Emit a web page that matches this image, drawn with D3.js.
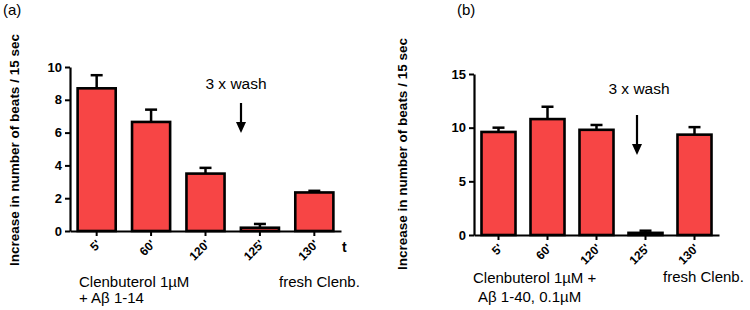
<!DOCTYPE html>
<html>
<head>
<meta charset="utf-8">
<script src="https://cdn.jsdelivr.net/npm/d3@7"></script>
<style>
  body { margin: 0; background: #fff; }
  svg { display: block; font-family: "Liberation Sans", Arial, sans-serif; }
</style>
</head>
<body>
<div id="chart"></div>
<script>
const categories = ["5'", "60'", "120'", "125'", "130'"];

// panel (a): Clenbuterol + Abeta 1-14
const meansA = [8.7, 6.65, 3.5, 0.2, 2.35];
const errTopA = [9.5, 7.4, 3.85, 0.43, 2.45];
const ticksA = [0, 2, 4, 6, 8, 10];

// panel (b): Clenbuterol + Abeta 1-40
const meansB = [9.6, 10.8, 9.8, 0.2, 9.35];
const errTopB = [10.0, 11.95, 10.25, 0.4, 10.05];
const ticksB = [0, 5, 10, 15];

const yLabel = "Increase in number of beats / 15 sec";
const barColor = "#f74545";

const svg = d3.select("#chart")
    .append("svg")
    .attr("width", 750)
    .attr("height", 310);

function drawPanel(opt) {
    const g = svg.append("g");

    const x = d3.scaleBand()
        .domain(categories)
        .range([opt.left, opt.right])
        .paddingInner(opt.padIn)
        .paddingOuter(opt.padOut);

    const y = d3.scaleLinear()
        .domain([0, opt.yMax])
        .range([opt.bottom, opt.top]);

    // bars
    g.selectAll(".bar")
        .data(opt.means)
        .join("rect")
        .attr("class", "bar")
        .attr("x", (d, i) => x(categories[i]))
        .attr("y", d => y(d))
        .attr("width", x.bandwidth())
        .attr("height", d => y(0) - y(d))
        .attr("fill", barColor)
        .attr("stroke", "#000")
        .attr("stroke-width", 2.6);

    // error bars (upper only)
    const cx = i => x(categories[i]) + x.bandwidth() / 2;
    g.selectAll(".errLine")
        .data(opt.errTop)
        .join("line")
        .attr("x1", (d, i) => cx(i))
        .attr("x2", (d, i) => cx(i))
        .attr("y1", (d, i) => y(opt.means[i]))
        .attr("y2", d => y(d))
        .attr("stroke", "#000")
        .attr("stroke-width", 2.5);

    g.selectAll(".errCap")
        .data(opt.errTop)
        .join("line")
        .attr("x1", (d, i) => cx(i) - 6)
        .attr("x2", (d, i) => cx(i) + 6)
        .attr("y1", d => y(d))
        .attr("y2", d => y(d))
        .attr("stroke", "#000")
        .attr("stroke-width", 2.5);

    // y axis
    const yAxis = g.append("g")
        .attr("transform", `translate(${opt.left},0)`)
        .call(d3.axisLeft(y).tickValues(opt.ticks).tickSize(5).tickSizeOuter(0).tickPadding(3));

    // x axis
    const xAxis = g.append("g")
        .attr("transform", `translate(0,${opt.bottom})`)
        .call(d3.axisBottom(x).tickSize(5).tickSizeOuter(0));

    [yAxis, xAxis].forEach(a => {
        a.select(".domain").attr("stroke-width", 2.2);
        a.selectAll(".tick line").attr("stroke-width", 2);
        a.selectAll("text")
            .style("font-family", "Liberation Sans, Arial, sans-serif")
            .style("font-weight", "bold")
            .style("font-size", "13px")
            .attr("fill", "#000");
    });

    // rotated category labels, ending just below-right of each tick
    xAxis.selectAll("text")
        .attr("x", 0)
        .attr("y", 0)
        .attr("dy", "0.35em")
        .attr("text-anchor", "end")
        .style("font-size", "12px")
        .attr("transform", "translate(2,11) rotate(-45)");

    // y label
    g.append("text")
        .attr("transform", `translate(${opt.labelX},${opt.labelY}) rotate(-90)`)
        .attr("text-anchor", "middle")
        .style("font-weight", "bold")
        .style("font-size", "13.5px")
        .text(yLabel);

    // panel letter
    g.append("text")
        .attr("x", opt.letterX)
        .attr("y", 15)
        .style("font-size", "15px")
        .text(opt.letter);

    // wash annotation
    g.append("text")
        .attr("x", opt.washX)
        .attr("y", opt.washY)
        .attr("text-anchor", "middle")
        .style("font-size", "15.5px")
        .text("3 x wash");

    const ax = opt.arrowX;
    g.append("line")
        .attr("x1", ax).attr("x2", ax)
        .attr("y1", opt.arrowY0).attr("y2", opt.arrowY1 - 8)
        .attr("stroke", "#000")
        .attr("stroke-width", 2.2);
    g.append("path")
        .attr("d", `M${ax - 5},${opt.arrowY1 - 11}L${ax + 5},${opt.arrowY1 - 11}L${ax},${opt.arrowY1}Z`)
        .attr("fill", "#000");

    // condition labels
    opt.notes.forEach(n => {
        g.append("text")
            .attr("x", n[1])
            .attr("y", n[2])
            .style("font-size", "15px")
            .text(n[0]);
    });

    return { x, y, g };
}

const pa = drawPanel({
    left: 70, right: 341, top: 67, bottom: 231,
    padIn: 0.3, padOut: 0.14, yMax: 10,
    means: meansA, errTop: errTopA, ticks: ticksA,
    labelX: 19, labelY: 150, letter: "(a)", letterX: 3,
    washX: 236, washY: 89, arrowX: 241, arrowY0: 103, arrowY1: 133,
    notes: [["Clenbuterol 1\u00b5M", 79, 287], ["+ A\u03b2 1-14", 79, 303], ["fresh Clenb.", 279, 287]]
});

pa.g.append("text")
    .attr("x", 342)
    .attr("y", 252)
    .style("font-size", "14px")
    .style("font-weight", "bold")
    .text("t");

drawPanel({
    left: 474, right: 719, top: 74, bottom: 235,
    padIn: 0.306, padOut: 0.153, yMax: 15,
    means: meansB, errTop: errTopB, ticks: ticksB,
    labelX: 407, labelY: 154, letter: "(b)", letterX: 457,
    washX: 639, washY: 94, arrowX: 637, arrowY0: 115, arrowY1: 155,
    notes: [["Clenbuterol 1\u00b5M +", 473, 283], ["A\u03b2 1-40, 0.1\u00b5M", 478, 302], ["fresh Clenb.", 663, 282]]
});
</script>
</body>
</html>
